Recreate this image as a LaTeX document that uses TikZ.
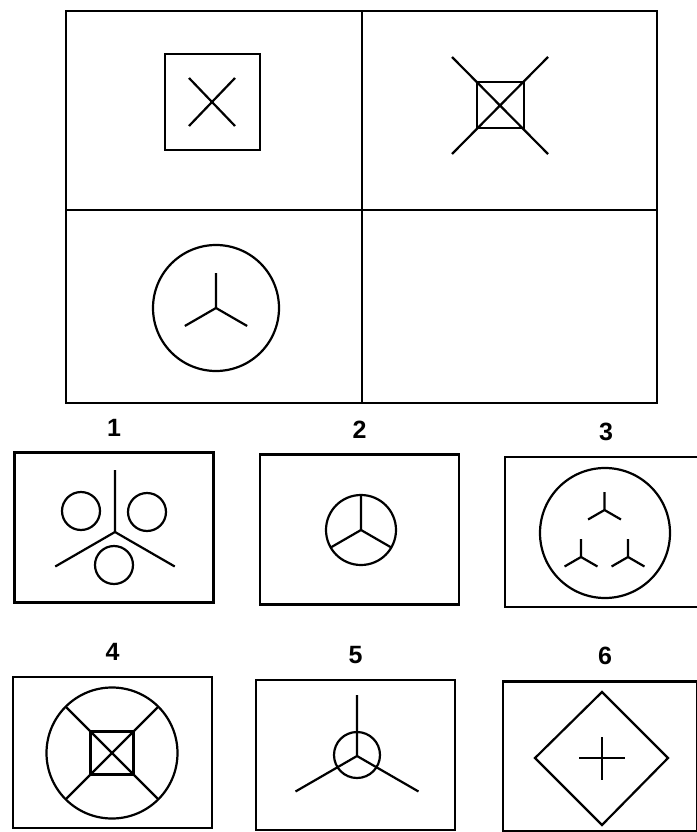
\documentclass[tikz,border=0pt]{standalone}
\usepackage{fontspec}
\setmainfont{Liberation Sans}
\usepackage{tikz}
\usetikzlibrary{positioning}

\tikzset{
    pics/tripod/.style 2 args={code={
        \draw (0,0) -- (-90:#1) (0,0) -- (150:#2) (0,0) -- (30:#2);
    }}
}

\begin{document}
\begin{tikzpicture}[
    x=1pt, y=-1pt,
    node distance=14pt,
    line width=2.2pt,
    cell/.style={
        draw, line width=2.8pt, inner sep=0pt,
        minimum width=#1, minimum height=199pt
    },
    opt/.style={
        draw, line width=2.6pt, inner sep=0pt,
        minimum width=199pt, minimum height=150pt
    },
    lbl/.style={font=\fontsize{25}{25}\selectfont\bfseries, inner sep=0pt}
]
\useasboundingbox (0,0) rectangle (696,832);

% matrix of the puzzle
\node[cell=296pt] (C1) at (214,110.5) {};
\node[cell=295pt] (C2) at (509.5,110.5) {};
\node[cell=296pt, minimum height=193pt] (C3) at (214,306.5) {};
\node[cell=295pt, minimum height=193pt] (C4) at (509.5,306.5) {};

% cell 1: frame with cross
\draw (165,54) rectangle (260,150);
\draw (189,78) -- (235,126) (235,78) -- (189,126);

% cell 2: small square with long cross
\draw (477,82) rectangle (524,128);
\draw (452,57) -- (548,154) (548,57) -- (452,154);

% cell 3: circle with tripod
\draw (216,308) circle[radius=63];
\pic at (216,308) {tripod={35}{36}};

% answer options
\node[opt] (O1) at (114,527.5) {};
\node[opt] (O2) at (359.5,529.5) {};
\node[opt, minimum width=194pt] (O3) at (602,532) {};
\node[opt, minimum height=151pt] (O4) at (112.5,752.5) {};
\node[opt] (O5) at (355.5,755) {};
\node[opt, minimum width=194pt] (O6) at (600,756.5) {};

\node[lbl, above=of O1] (L1) {1};
\node[lbl, above=of O2] (L2) {2};
\node[lbl, above=of O3, xshift=4pt] (L3) {3};
\node[lbl, above=of O4] (L4) {4};
\node[lbl, above=of O5] (L5) {5};
\node[lbl, above=of O6, xshift=5pt] (L6) {6};

% option 1
\pic at (115,532) {tripod={62}{69}};
\draw (81,511) circle[radius=19] (147,512) circle[radius=19] (114,565) circle[radius=19];

% option 2
\draw (361,530) circle[radius=35];
\pic at (361,530) {tripod={35}{35}};

% option 3
\draw (605,533) circle[radius=65];
\pic at (604.5,510) {tripod={18}{19}};
\pic at (581,557) {tripod={18}{19}};
\pic at (628,557) {tripod={18}{19}};

% option 4
\draw (112,753) circle[radius=65.5];
\draw (90.5,731.5) rectangle (133.5,774.5);
\draw (112,753) ++(45:65.5) -- ++(225:131) (112,753) ++(135:65.5) -- ++(315:131);

% option 5
\draw (357,755) circle[radius=23];
\pic at (357,756) {tripod={61}{71}};

% option 6
\draw (602,692) -- (668,758) -- (602,825) -- (535,758) -- cycle;
\draw (579,758) -- (625,758) (602,737) -- (602,780);

\end{tikzpicture}
\end{document}
